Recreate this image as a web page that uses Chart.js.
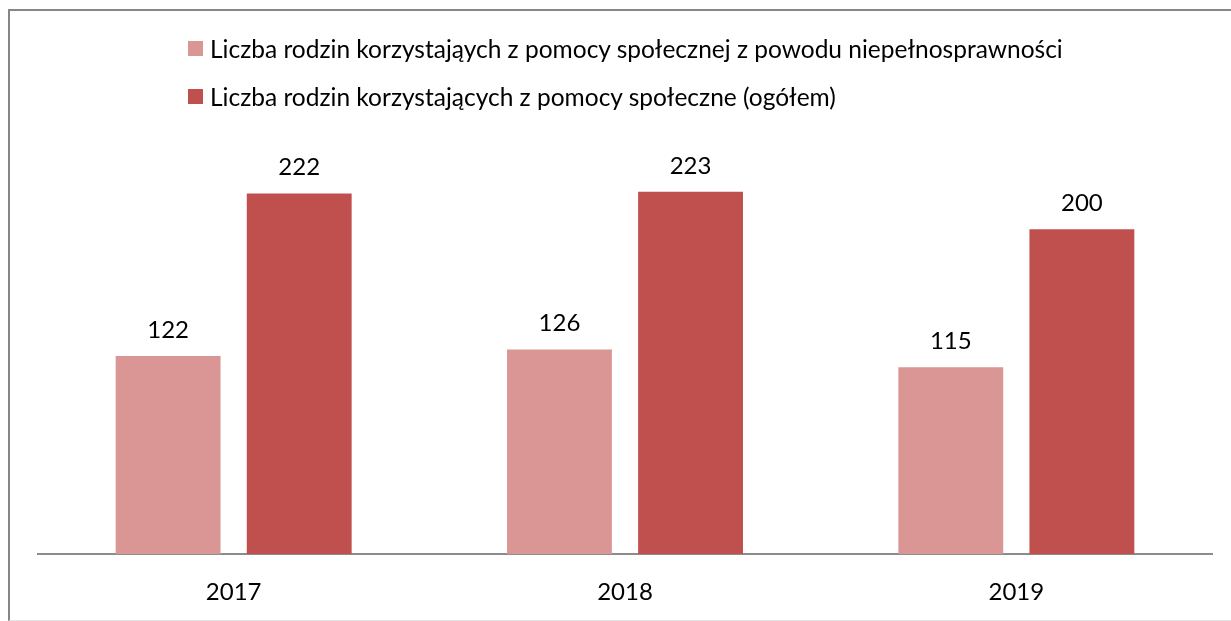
<!DOCTYPE html>
<html lang="pl">
<head>
<meta charset="utf-8">
<script src="https://cdn.jsdelivr.net/npm/chart.js@4/dist/chart.umd.min.js"></script>
<style>
  html, body { margin: 0; padding: 0; background: #fff; }
  body { width: 1231px; height: 621px; position: relative; overflow: hidden; font-family: Lato, sans-serif; }
  .frame {
    position: absolute; left: 8px; top: 9px; width: 1240px; height: 609px;
    border-top: 2px solid #868686; border-left: 2px solid #868686; border-bottom: 1px solid #e4e4e4;
  }
  .chart-box { position: absolute; left: 0; top: 0; width: 1231px; height: 648px; }
  .legend { position: absolute; left: 188px; top: 24px; font-size: 24.5px; color: #000; }
  .legend-item { display: flex; align-items: center; height: 48px; }
  .legend-box { width: 15px; height: 15px; margin-right: 7px; }
</style>
</head>
<body>
<div class="frame"></div>
<div class="chart-box"><canvas class="js-chart"></canvas></div>
<div class="legend js-legend"></div>
<script>
const years = ['2017', '2018', '2019'];
const disabilityFamilies = [122, 126, 115];
const allFamilies = [222, 223, 200];
const seriesNames = [
  'Liczba rodzin korzystająych z pomocy społecznej z powodu niepełnosprawności',
  'Liczba rodzin korzystających z pomocy społeczne (ogółem)'
];
const seriesColors = ['#D99694', '#C0504D'];

const FONT = 'Lato, sans-serif';

// labels above bars
const valueLabels = {
  id: 'valueLabels',
  afterDatasetsDraw(chart) {
    const c = chart.ctx;
    c.save();
    c.font = '24px ' + FONT;
    c.fillStyle = '#000';
    c.textAlign = 'center';
    c.textBaseline = 'alphabetic';
    chart.data.datasets.forEach((ds, i) => {
      chart.getDatasetMeta(i).data.forEach((bar, j) => {
        c.fillText(ds.data[j], bar.x, bar.y - 18);
      });
    });
    c.restore();
  }
};

const legend = document.querySelector('.js-legend');
seriesNames.forEach((name, i) => {
  const row = document.createElement('div');
  row.className = 'legend-item';
  row.innerHTML = '<span class="legend-box" style="background:' + seriesColors[i] + '"></span><span>' + name + '</span>';
  legend.appendChild(row);
});

const ctx = document.querySelector('.js-chart').getContext('2d');

const familiesChart = new Chart(ctx, {
  type: 'bar',
  data: {
    labels: years,
    datasets: [{
      label: seriesNames[0],
      data: disabilityFamilies,
      backgroundColor: seriesColors[0]
    }, {
      label: seriesNames[1],
      data: allFamilies,
      backgroundColor: seriesColors[1]
    }]
  },
  options: {
    responsive: true,
    maintainAspectRatio: false,
    animation: false,
    categoryPercentage: 0.67,
    barPercentage: 0.8,
    layout: {
      padding: { left: 38, right: 19, top: 148, bottom: 17 }
    },
    plugins: {
      legend: { display: false },
      tooltip: { enabled: false }
    },
    scales: {
      x: {
        grid: { display: false, drawTicks: false },
        border: { color: '#8c8c8c', width: 2 },
        ticks: { color: '#000', padding: 24, font: { family: FONT, size: 24 } }
      },
      y: {
        display: false,
        min: 0,
        max: 250
      }
    }
  },
  plugins: [valueLabels]
});
</script>
</body>
</html>
